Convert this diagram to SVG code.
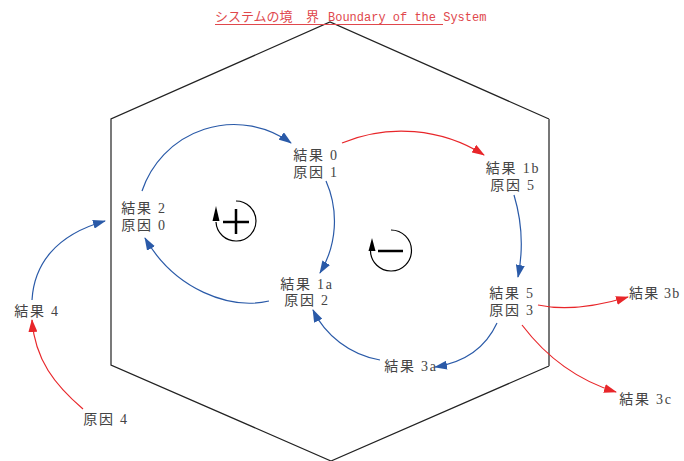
<svg xmlns="http://www.w3.org/2000/svg" width="684" height="461" viewBox="0 0 684 461">
<style>
.t{font-family:"Liberation Serif","Noto Sans CJK JP",serif;font-size:14px;fill:#444;letter-spacing:1.8px;text-anchor:middle}
.b{fill:none;stroke:#2a5aa8;stroke-width:1.2}
.r{fill:none;stroke:#e8262a;stroke-width:1.2}
</style>
<defs>
<marker id="ab" viewBox="0 0 13 9" markerWidth="13" markerHeight="9" refX="12" refY="4.5" orient="auto" markerUnits="userSpaceOnUse"><path d="M0,0 L13,4.5 L0,9 z" fill="#2a5aa8"/></marker>
<marker id="ar" viewBox="0 0 13 9" markerWidth="13" markerHeight="9" refX="12" refY="4.5" orient="auto" markerUnits="userSpaceOnUse"><path d="M0,0 L13,4.5 L0,9 z" fill="#e8262a"/></marker>
</defs>
<rect width="684" height="461" fill="#fff"/>
<g id="boundary">
<path d="M549,119 L330,22 L111,119 L111,365 L331,461 L549,366" fill="none" stroke="#222" stroke-width="1.2"/>
<path d="M549,119 L549,366" fill="none" stroke="#777" stroke-width="2"/>
<text y="21" fill="#e0474c" font-size="13" font-family="'Noto Sans CJK JP',sans-serif"><tspan x="215">システムの境</tspan><tspan x="306">界</tspan><tspan x="328" font-family="'Liberation Mono',monospace" font-size="12">Boundary of the System</tspan></text>
<line x1="215" y1="24.5" x2="443" y2="24.5" stroke="#e0474c" stroke-width="1.2"/>
</g>
<g id="loops">
<path d="M236,201 A20,20 0 1 1 216,222" fill="none" stroke="#000" stroke-width="1.2"/>
<polygon points="216,206 212.5,221 219.5,221" fill="#000"/>
<path d="M223,222 H249 M236,209 V234" stroke="#000" stroke-width="2.5"/>
<path d="M391,230 A20.5,20.5 0 1 1 370.5,251" fill="none" stroke="#000" stroke-width="1.2"/>
<polygon points="372,238 368.5,251 375.5,251" fill="#000"/>
<path d="M378,251 H403" stroke="#000" stroke-width="2.5"/>
</g>
<g id="connectors">
<path class="b" d="M142,191 A97,97 0 0 1 291,143" marker-end="url(#ab)"/>
<path class="b" d="M326,181 A100,100 0 0 1 320,273" marker-end="url(#ab)"/>
<path class="b" d="M269,301 C230,310 175,290 145,238" marker-end="url(#ab)"/>
<path class="r" d="M342,143 A155,155 0 0 1 484,155" marker-end="url(#ar)"/>
<path class="b" d="M514,195 A170,170 0 0 1 518,277" marker-end="url(#ab)"/>
<path class="b" d="M497,323 Q480,360 435,367" marker-end="url(#ab)"/>
<path class="b" d="M380,360 C350,355 325,335 313,310" marker-end="url(#ab)"/>
<path class="r" d="M538,305 Q575,313 628,297" marker-end="url(#ar)"/>
<path class="r" d="M522,325 Q560,375 616,392" marker-end="url(#ar)"/>
<path class="b" d="M32,300 C34,265 55,235 105,221" marker-end="url(#ab)"/>
<path class="r" d="M83,409 C55,385 35,360 32,320" marker-end="url(#ar)"/>
</g>
<g id="n0"><text class="t" x="316" y="160">結果 0</text><text class="t" x="316" y="177">原因 1</text></g>
<g id="n1b"><text class="t" x="513" y="173">結果 1b</text><text class="t" x="513" y="190">原因 5</text></g>
<g id="n2"><text class="t" x="144" y="213">結果 2</text><text class="t" x="144" y="230">原因 0</text></g>
<g id="n1a"><text class="t" x="307" y="289">結果 1a</text><text class="t" x="307" y="305">原因 2</text></g>
<g id="n5"><text class="t" x="512" y="298">結果 5</text><text class="t" x="512" y="315">原因 3</text></g>
<g id="n3a"><text class="t" x="411" y="371">結果 3a</text></g>
<g id="n3b"><text class="t" x="629" y="298" style="text-anchor:start;letter-spacing:1.2px">結果 3b</text></g>
<g id="n3c"><text class="t" x="646" y="404">結果 3c</text></g>
<g id="n4"><text class="t" x="37" y="316">結果 4</text></g>
<g id="c4"><text class="t" x="106" y="424">原因 4</text></g>
</svg>
